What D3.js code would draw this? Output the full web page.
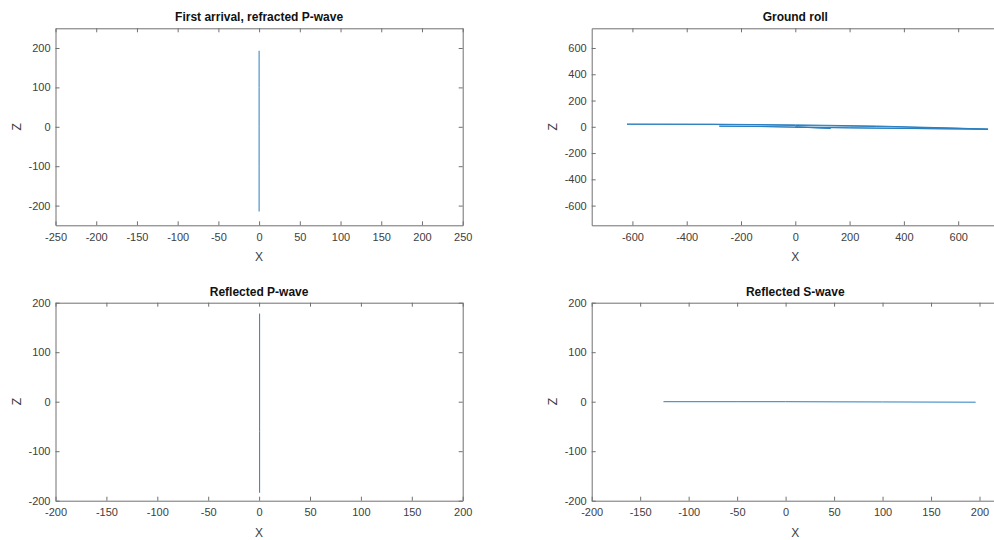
<!DOCTYPE html>
<html>
<head>
<meta charset="utf-8">
<script src="https://cdn.jsdelivr.net/npm/d3@7"></script>
<style>
  html, body { margin: 0; padding: 0; background: #fff; overflow: hidden; }
  svg { display: block; font-family: "Liberation Sans", Arial, sans-serif; }
</style>
</head>
<body>
<svg id="chart" width="994" height="540"></svg>
<script>
// ---- Data ----
const refractedX = [0, 0, 0, 0, 0];
const refractedZ = [193, 100, 0, -100, -215];

const groundX = [0, 60, 130, 40, -100, -280, -150, 0, 200, 450, 710, 600, 300, 0, -300, -620, -450, -300, 0, 300, 600, 710, 500, 200, 0];
const groundZ = [0, -6, -12, -5, 1, 5, 3, -2, -8, -14, -19, -12, 2, 10, 18, 20, 20, 20, 15, 6, -10, -18, -14, -8, -3];

const reflPX = [0.5, 0.5, 0.5, 0.5];
const reflPZ = [178, 60, -60, -184];

const reflSX = [-126, -50, 0, 50, 100, 196];
const reflSZ = [0, 0, 0, -0.3, -0.5, -1];

const titles = ["First arrival, refracted P-wave", "Ground roll", "Reflected P-wave", "Reflected S-wave"];
const xTicks1 = [-250, -200, -150, -100, -50, 0, 50, 100, 150, 200, 250];
const zTicks1 = [-200, -100, 0, 100, 200];
const xTicks2 = [-600, -400, -200, 0, 200, 400, 600];
const zTicks2 = [-600, -400, -200, 0, 200, 400, 600];
const xTicks3 = [-200, -150, -100, -50, 0, 50, 100, 150, 200];
const zTicks3 = [-200, -100, 0, 100, 200];
const xTicks4 = [-200, -150, -100, -50, 0, 50, 100, 150, 200];
const zTicks4 = [-200, -100, 0, 100, 200];

const panels = [
  { title: titles[0], xs: refractedX, zs: refractedZ, xdom: [-250, 250], zdom: [-250, 250], xt: xTicks1, zt: zTicks1,
    box: { x0: 55.5, x1: 462.7, y0: 28.3, y1: 225.3 } },
  { title: titles[1], xs: groundX, zs: groundZ, xdom: [-750, 750], zdom: [-750, 750], xt: xTicks2, zt: zTicks2,
    box: { x0: 591.7, x1: 998.9, y0: 28.3, y1: 225.3 } },
  { title: titles[2], xs: reflPX, zs: reflPZ, xdom: [-200, 200], zdom: [-200, 200], xt: xTicks3, zt: zTicks3,
    box: { x0: 55.5, x1: 462.7, y0: 302.7, y1: 500.7 } },
  { title: titles[3], xs: reflSX, zs: reflSZ, xdom: [-200, 220], zdom: [-200, 200], xt: xTicks4, zt: zTicks4,
    box: { x0: 591.7, x1: 998.9, y0: 302.7, y1: 500.7 } }
];

const svg = d3.select("#chart");
const axisColor = "#707070";
const textColor = "#404040";
const lineColor = "#2a7fc0";

panels.forEach(p => {
  const b = p.box;
  const x = d3.scaleLinear().domain(p.xdom).range([b.x0, b.x1]);
  const y = d3.scaleLinear().domain(p.zdom).range([b.y1, b.y0]);
  const g = svg.append("g");

  const pts = p.xs.map((v, i) => [v, p.zs[i]]);
  g.append("path")
    .datum(pts)
    .attr("fill", "none")
    .attr("stroke", lineColor)
    .attr("stroke-width", 1)
    .attr("d", d3.line().x(d => x(d[0])).y(d => y(d[1])));

  const fmt = d => String(d);
  const styleAxis = sel => {
    sel.select(".domain").attr("stroke", axisColor).attr("stroke-width", 1);
    sel.selectAll(".tick line").attr("stroke", axisColor);
    sel.selectAll(".tick text").attr("fill", textColor).style("font-size", "11px").style("font-family", "Liberation Sans, Arial, sans-serif");
  };

  g.append("g").attr("transform", `translate(0,${b.y1})`)
    .call(d3.axisBottom(x).tickValues(p.xt).tickFormat(fmt).tickSizeInner(-4).tickSizeOuter(0).tickPadding(8))
    .call(styleAxis);
  g.append("g").attr("transform", `translate(0,${b.y0})`)
    .call(d3.axisTop(x).tickValues(p.xt).tickFormat("").tickSizeInner(-4).tickSizeOuter(0))
    .call(styleAxis);
  g.append("g").attr("transform", `translate(${b.x0},0)`)
    .call(d3.axisLeft(y).tickValues(p.zt).tickFormat(fmt).tickSizeInner(-4).tickSizeOuter(0).tickPadding(5))
    .call(styleAxis);
  g.append("g").attr("transform", `translate(${b.x1},0)`)
    .call(d3.axisRight(y).tickValues(p.zt).tickFormat("").tickSizeInner(-4).tickSizeOuter(0))
    .call(styleAxis);

  const cx = (b.x0 + b.x1) / 2;
  const cy = (b.y0 + b.y1) / 2;
  g.append("text")
    .attr("x", cx).attr("y", b.y0 - 7)
    .attr("text-anchor", "middle")
    .attr("font-weight", "bold")
    .attr("font-size", "12px")
    .attr("fill", "#111")
    .text(p.title);
  g.append("text")
    .attr("x", cx).attr("y", b.y1 + 36)
    .attr("text-anchor", "middle")
    .attr("font-size", "12px")
    .attr("fill", textColor)
    .text("X");
  g.append("text")
    .attr("transform", `translate(${b.x0 - 35},${cy}) rotate(-90)`)
    .attr("text-anchor", "middle")
    .attr("font-size", "12px")
    .attr("fill", textColor)
    .text("Z");
});
</script>
</body>
</html>
